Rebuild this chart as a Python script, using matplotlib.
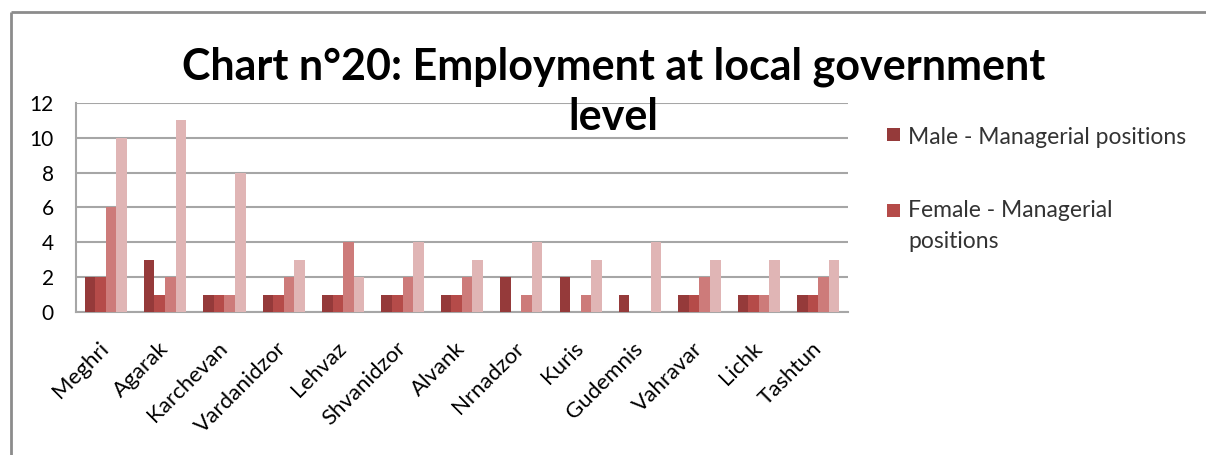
import numpy as np
import matplotlib
matplotlib.use('Agg')
import matplotlib.pyplot as plt
from matplotlib.lines import Line2D
from matplotlib.patches import Rectangle

villages = ['Meghri', 'Agarak', 'Karchevan', 'Vardanidzor', 'Lehvaz', 'Shvanidzor',
            'Alvank', 'Nrnadzor', 'Kuris', 'Gudemnis', 'Vahravar', 'Lichk', 'Tashtun']
male_manag = [2, 3, 1, 1, 1, 1, 1, 2, 2, 1, 1, 1, 1]
female_manag = [2, 1, 1, 1, 1, 1, 1, 0, 0, 0, 1, 1, 1]
male_other = [6, 2, 1, 2, 4, 2, 2, 1, 1, 0, 2, 1, 2]
female_other = [10, 11, 8, 3, 2, 4, 3, 4, 3, 4, 3, 3, 3]

series = [male_manag, female_manag, male_other, female_other]
labels = ['Male - Managerial positions', 'Female - Managerial\npositions']
colors = ['#953a3a', '#b54b49', '#cd7b7a', '#e0b5b5']

plt.rcParams['font.family'] = ['Lato', 'DejaVu Sans']

W, H = 1206, 455
fig = plt.figure(figsize=(W / 100, H / 100), dpi=100)
ax = fig.add_axes([0.063, 0.314, 0.64, 0.46])

x = np.arange(len(villages))
w = 0.178
for i, (vals, col) in enumerate(zip(series, colors)):
    ax.bar(x + (i - 1.5) * w, vals, w, color=col, zorder=3)

ax.set_xlim(-0.5, len(villages) - 0.5)
ax.set_ylim(0, 12)
ax.set_yticks(range(0, 13, 2))
ax.yaxis.grid(True, color='#a6a6a6', linewidth=1.5, zorder=0)
ax.set_axisbelow(True)
ax.set_xticks(x)
ax.set_xticklabels(villages, rotation=45, ha='right', va='center',
                   rotation_mode='anchor', fontsize=16)
ax.tick_params(axis='y', labelsize=15, length=0, pad=16)
ax.tick_params(axis='x', length=0, pad=24)
for s in ['top', 'right']:
    ax.spines[s].set_visible(False)
for s in ['left', 'bottom']:
    ax.spines[s].set_color('#a6a6a6')
    ax.spines[s].set_linewidth(1.5)

fig.text(0.509, 0.825, 'Chart n°20: Employment at local government', ha='center',
         va='baseline', fontsize=31, fontweight='bold')
fig.text(0.509, 0.715, 'level', ha='center', va='baseline', fontsize=31, fontweight='bold')

# legend (only the first two series are visible in the original)
leg_y = [135, 211]
for lab, col, yy in zip(labels, colors[:2], leg_y):
    fig.add_artist(Rectangle((887 / W, 1 - (yy + 6) / H), 13 / W, 13 / H,
                             facecolor=col, edgecolor='none'))
    if '\n' in lab:
        fig.text(908 / W, 1 - (yy - 11) / H, lab, ha='left', va='top',
                 fontsize=16.5, color='#333333', linespacing=1.6)
    else:
        fig.text(908 / W, 1 - yy / H, lab, ha='left', va='center_baseline',
                 fontsize=16.5, color='#333333')

# chart frame lines on the left and top
fig.add_artist(Line2D([0.0095, 0.0095], [-0.01, 0.974], color='#8c8c8c',
                      linewidth=2, solid_capstyle='butt'))
fig.add_artist(Line2D([0.0095, 1.0], [0.974, 0.974], color='#8c8c8c',
                      linewidth=2, solid_capstyle='butt'))

fig.savefig('out.png', dpi=100)
